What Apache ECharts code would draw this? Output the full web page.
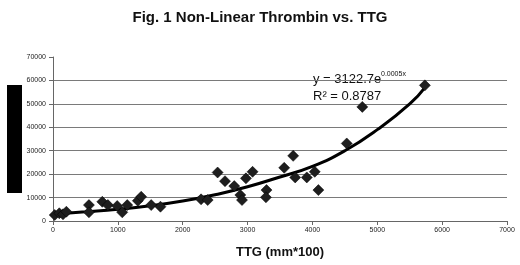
<!DOCTYPE html>
<html><head><meta charset="utf-8">
<script src="https://cdn.jsdelivr.net/npm/echarts@6/dist/echarts.min.js"></script>
<style>html,body{margin:0;padding:0;background:#fff}#c{width:520px;height:265px}</style>
</head><body><div id="c"></div>
<script>
// Observed points (TTG, Thrombin)
var ttg = [26,97,154,206,554,554,760,846,990,1068,1145,1308,1360,1514,1657,2283,2385,2538,2652,2795,2888,2914,2975,3077,3292,3283,3565,3703,3734,3913,4036,4092,4529,4769,5734];
var thrombin = [2560,3300,2850,3960,6800,3700,8200,6800,6400,3700,6800,8650,10350,6800,6100,9250,8950,20700,17000,14900,11100,8950,18200,21000,13200,10100,22700,27800,18600,18600,21000,13200,33100,48700,57900];
// Trendline
var trendX = [0,500,1000,1500,2000,2500,3000,3500,4000,4500,5000,5500,5750];
var trendY = [2900,3900,5000,6500,8500,11200,14600,18800,23300,30000,39000,50000,57500];
var xTicks = [0,1000,2000,3000,4000,5000,6000,7000];
var yTicks = [0,10000,20000,30000,40000,50000,60000,70000];

var pts = ttg.map(function(v,i){return [v, thrombin[i]];});
var trend = trendX.map(function(v,i){return [v, trendY[i]];});
var chart = echarts.init(document.getElementById('c'));
chart.setOption({
  animation:false,
  title:{text:'Fig. 1 Non-Linear Thrombin vs. TTG', left:'center', top:5,
    textStyle:{fontFamily:'Liberation Sans, Arial', fontSize:15, fontWeight:'bold', color:'#111'}},
  grid:{left:53, right:13, top:57, bottom:44},
  xAxis:{type:'value', min:xTicks[0], max:xTicks[xTicks.length-1], interval:1000,
    name:'TTG (mm*100)', nameLocation:'middle', nameGap:25,
    nameTextStyle:{fontFamily:'Liberation Sans, Arial', fontSize:13, fontWeight:'bold', color:'#111'},
    axisLine:{lineStyle:{color:'#666', width:1}},
    axisTick:{show:true, length:4, lineStyle:{color:'#666'}},
    axisLabel:{fontFamily:'Liberation Sans, Arial', fontSize:7, color:'#222', margin:6,
      formatter:function(v){return String(v);}},
    splitLine:{show:false}},
  yAxis:{type:'value', min:yTicks[0], max:yTicks[yTicks.length-1], interval:10000,
    axisLine:{show:true, lineStyle:{color:'#666', width:1}},
    axisTick:{show:true, length:4, lineStyle:{color:'#666'}},
    axisLabel:{fontFamily:'Liberation Sans, Arial', fontSize:7, color:'#222', margin:7,
      formatter:function(v){return String(v);}},
    splitLine:{show:true, showMinLine:false, showMaxLine:false, lineStyle:{color:'#7a7a7a', width:1}}},
  graphic:[
    {type:'rect', shape:{x:7, y:85, width:15, height:108}, style:{fill:'#000'}},
    {type:'text', left:313, top:73, style:{text:'y = 3122.7e', fontFamily:'Liberation Sans, Arial', fontSize:13, fill:'#111'}},
    {type:'text', left:381, top:71, style:{text:'0.0005x', fontFamily:'Liberation Sans, Arial', fontSize:7, fill:'#111'}},
    {type:'text', left:313, top:90, style:{text:'R² = 0.8787', fontFamily:'Liberation Sans, Arial', fontSize:13, fill:'#111'}}
  ],
  series:[
    {type:'line', data:trend, smooth:true, showSymbol:false, lineStyle:{color:'#000', width:3}, z:3},
    {type:'scatter', data:pts, symbol:'diamond', symbolSize:11,
      itemStyle:{color:'#1e1e1e', opacity:1, borderColor:'#000', borderWidth:0.5}, z:4}
  ]
});
</script></body></html>
